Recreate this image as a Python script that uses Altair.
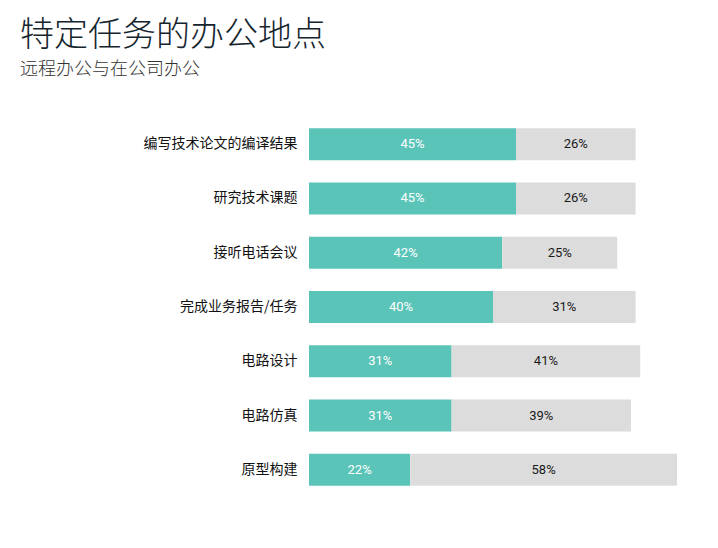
import altair as alt
import pandas as pd

tasks = ["编写技术论文的编译结果", "研究技术课题", "接听电话会议", "完成业务报告/任务",
         "电路设计", "电路仿真", "原型构建"]
remote = [45, 45, 42, 40, 31, 31, 22]
office = [26, 26, 25, 31, 41, 39, 58]
series = ["远程办公", "在公司办公"]

rows = []
for t, r, o in zip(tasks, remote, office):
    rows.append({"task": t, "series": series[0], "value": r, "ord": 0})
    rows.append({"task": t, "series": series[1], "value": o, "ord": 1})
df = pd.DataFrame(rows)

base = alt.Chart(df).transform_stack(
    stack="value", as_=["x0", "x1"], groupby=["task"], sort=[{"field": "ord", "order": "ascending"}]
).transform_calculate(mid="(datum.x0 + datum.x1) / 2", label="datum.value + '%'")

y = alt.Y("task:N", sort=tasks, title=None,
          scale=alt.Scale(paddingInner=0.41, paddingOuter=0.205),
          axis=alt.Axis(ticks=False, domain=False, labelPadding=12, labelFontSize=14,
                        labelFont="Noto Sans CJK SC", labelColor="#111111", labelLimit=400))

bars = base.mark_bar().encode(
    y=y,
    x=alt.X("x0:Q", scale=alt.Scale(domain=[0, 80], nice=False), axis=None),
    x2="x1:Q",
    color=alt.Color("series:N", scale=alt.Scale(domain=series, range=["#5bc4b8", "#dcdcdc"]), legend=None),
)

texts = base.mark_text(font="Roboto", fontSize=13, fontWeight=400).encode(
    y=alt.Y("task:N", sort=tasks),
    x=alt.X("mid:Q"),
    text="label:N",
    color=alt.Color("series:N", scale=alt.Scale(domain=series, range=["#ffffff", "#1a1a1a"]), legend=None),
)

chart = alt.layer(bars, texts).resolve_scale(color="independent").properties(
    width=368, height=380,
    padding={"left": 12, "top": 11, "right": 5, "bottom": 5},
    title=alt.TitleParams(
        text="特定任务的办公地点", subtitle="远程办公与在公司办公",
        anchor="start", frame="group", dx=-289, offset=38,
        font="Noto Sans CJK SC", fontSize=34, fontWeight=300, color="#15252e",
        subtitleFont="Noto Sans CJK SC", subtitleFontSize=18, subtitleFontWeight=300,
        subtitleColor="#333333", subtitlePadding=8,
    ),
).configure_view(stroke=None)

chart.save("out.html", embed_options={"renderer": "svg", "actions": False})
